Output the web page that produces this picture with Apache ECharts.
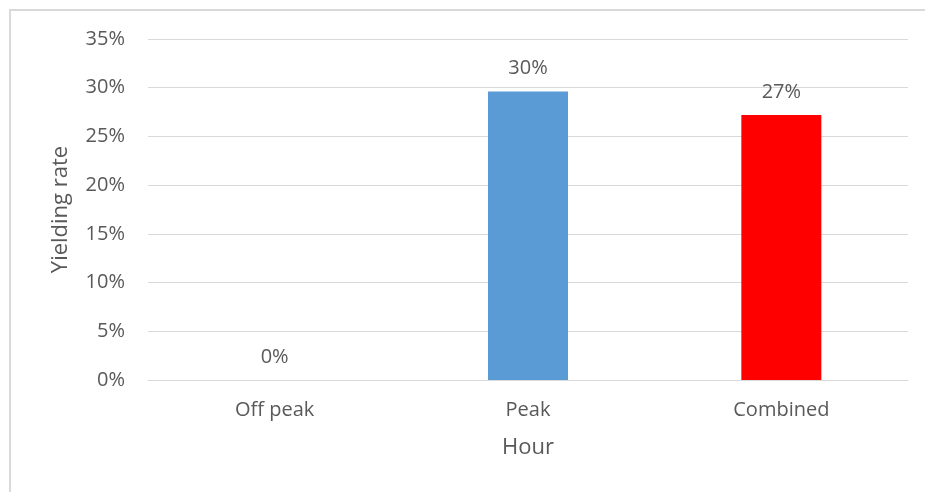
<!DOCTYPE html>
<html>
<head>
<meta charset="utf-8">
<script src="https://cdn.jsdelivr.net/npm/echarts@6/dist/echarts.min.js"></script>
<style>
  html, body { margin: 0; padding: 0; background: #fff; }
  #chart { width: 925px; height: 492px; }
</style>
</head>
<body>
<div id="chart"></div>
<script>
// Yielding rate by hour period (percent)
const categories = ['Off peak', 'Peak', 'Combined'];
const yieldingRate = [0, 29.6, 27.2];
const barColors = ['#5b9bd5', '#5b9bd5', '#ff0000'];
const yTicks = { min: 0, max: 35, interval: 5 };

const textColor = '#595959';
const gridColor = '#d9d9d9';
const fontFamily = '"Open Sans", "Noto Sans", sans-serif';

const chart = echarts.init(document.getElementById('chart'), null, { renderer: 'canvas' });

chart.setOption({
  animation: false,
  backgroundColor: '#ffffff',
  textStyle: { fontFamily: fontFamily },
  graphic: [{
    type: 'rect',
    shape: { x: 10, y: 10, width: 1000, height: 1000 },
    style: { fill: 'none', stroke: gridColor, lineWidth: 2 },
    silent: true
  }],
  grid: { left: 148, right: 17, top: 39, bottom: 112 },
  xAxis: {
    type: 'category',
    data: categories,
    name: 'Hour',
    nameLocation: 'middle',
    nameGap: 57,
    nameTextStyle: { color: textColor, fontSize: 22, fontFamily: fontFamily },
    axisLine: { show: true, lineStyle: { color: gridColor, width: 1 } },
    axisTick: { show: false },
    axisLabel: { color: textColor, fontSize: 20, margin: 20, fontFamily: fontFamily }
  },
  yAxis: {
    type: 'value',
    min: yTicks.min,
    max: yTicks.max,
    interval: yTicks.interval,
    name: 'Yielding rate',
    nameLocation: 'middle',
    nameGap: 76,
    nameTextStyle: { color: textColor, fontSize: 22, fontFamily: fontFamily },
    axisLine: { show: false },
    axisTick: { show: false },
    axisLabel: { color: textColor, fontSize: 20, margin: 23, formatter: '{value}%', fontFamily: fontFamily },
    splitLine: { lineStyle: { color: gridColor, width: 1 } }
  },
  series: [{
    type: 'bar',
    data: yieldingRate.map((v, i) => ({ value: v, itemStyle: { color: barColors[i] } })),
    barWidth: 80,
    label: {
      show: true,
      position: 'top',
      distance: 13,
      color: textColor,
      fontSize: 20,
      fontFamily: fontFamily,
      formatter: p => Math.round(p.value) + '%'
    }
  }]
});
</script>
</body>
</html>
